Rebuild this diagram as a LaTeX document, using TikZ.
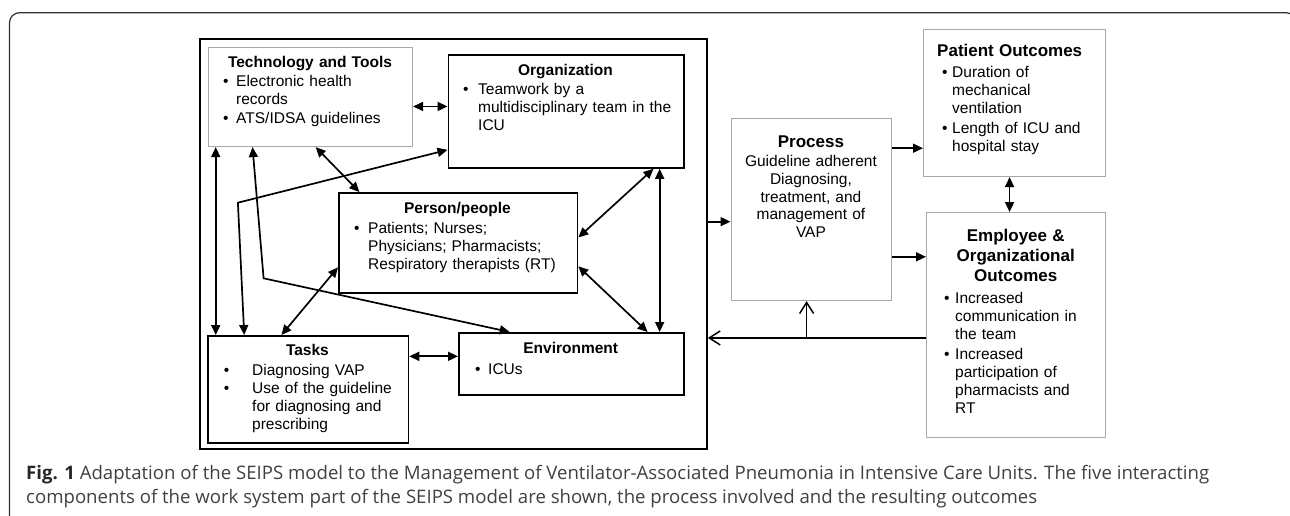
\documentclass[tikz,border=0pt]{standalone}
\usepackage{fontspec}
\setmainfont{Liberation Sans}
\newfontfamily\capfont{Open Sans}
\usetikzlibrary{arrows.meta,calc}
\definecolor{graybd}{HTML}{A8A8A8}
\definecolor{captxt}{HTML}{404040}
\definecolor{framec}{HTML}{303030}
\newlength\bw
\newlength\capw
\newcommand{\bitem}[1]{\mbox{\makebox[\bw][l]{\textbullet}#1}\par}
\newcommand{\bcont}[1]{\mbox{\hspace*{\bw}#1}\par}
\newcommand{\bodyfont}{\fontsize{15.5}{18}\selectfont}
\newcommand{\ttlfont}{\fontsize{17}{20}\selectfont}
\begin{document}
\settowidth\capw{\capfont\fontsize{10}{12}\selectfont\textbf{Fig. 1} Adaptation of the SEIPS model to the Management of Ventilator-Associated Pneumonia in Intensive Care Units. The five interacting}%
\pgfmathsetmacro\capfs{10*1183/\capw}%
\begin{tikzpicture}[x=1pt,y=-1pt,
  blackbox/.style={draw=black, line width=1.8pt, inner sep=0pt, anchor=north west},
  graybox/.style={draw=graybd, line width=1.1pt, inner sep=0pt, anchor=north west},
  txt/.style={inner sep=0pt, anchor=base west, font=\bodyfont\setlength\parindent{0pt}\setlength\parskip{0pt}},
  tipf/.tip={Triangle[length=10pt,width=9pt]},
  dbl/.style={line width=1.7pt, tipf-tipf},
  one/.style={line width=1.7pt, -tipf},
  openarr/.style={line width=1.5pt, -{Straight Barb[length=11pt,width=14pt]}}]
\useasboundingbox (0,0) rectangle (1290,516);
% outer frame
\draw[framec, line width=1.2pt, rounded corners=10pt] (9.5,560) -- (9.5,12.7) -- (1296,12.7) -- (1296,560);

% boxes
\node[blackbox, minimum width=507pt, minimum height=410pt] (work) at (199,38) {};
\node[graybox, minimum width=204.5pt, minimum height=99pt] (tech) at (207.5,47) {};
\node[blackbox, minimum width=235.5pt, minimum height=113pt] (org) at (447.5,54) {};
\node[blackbox, minimum width=238.5pt, minimum height=100pt] (person) at (338,192) {};
\node[blackbox, minimum width=200.5pt, minimum height=107pt] (tasks) at (207,335) {};
\node[blackbox, minimum width=225pt, minimum height=62pt] (env) at (458,332) {};
\node[graybox, minimum width=160.5pt, minimum height=182pt] (process) at (730.5,118) {};
\node[graybox, minimum width=182pt, minimum height=147pt] (patient) at (923,29) {};
\node[graybox, minimum width=179pt, minimum height=225pt] (employee) at (926,212) {};

% texts
\node[txt, text width=204.5pt] (techtxt) at (207.5,68) {%
  {\centering\bfseries Technology and Tools\par}\vspace{1pt}%
  \leftskip=15.5pt \setlength\bw{13pt}%
  \bitem{Electronic health}\bcont{records}\vspace{1pt}\bitem{ATS/IDSA guidelines}};
\node[txt, text width=235.5pt] (orgtxt) at (447.5,75.7) {%
  {\centering\bfseries Organization\par}\vspace{1.3pt}%
  \leftskip=15.5pt \setlength\bw{15pt}%
  \bitem{Teamwork by a}\bcont{multidisciplinary team in the}\bcont{ICU}};
\node[txt, text width=238.5pt] (persontxt) at (338,213) {%
  {\centering\bfseries Person/people\par}\vspace{2pt}%
  \leftskip=16pt \setlength\bw{14pt}%
  \bitem{Patients; Nurses;}\bcont{Physicians; Pharmacists;}\bcont{Respiratory therapists (RT)}};
\node[txt, text width=200.5pt] (taskstxt) at (207,355) {%
  {\centering\bfseries Tasks\par}\vspace{2pt}%
  \leftskip=16.6pt \setlength\bw{28.4pt}%
  \bitem{Diagnosing VAP}\bitem{Use of the guideline}\bcont{for diagnosing and}\bcont{prescribing}};
\node[txt, text width=225pt] (envtxt) at (458,353) {%
  {\centering\bfseries Environment\par}\vspace{3pt}%
  \leftskip=17pt \setlength\bw{13pt}%
  \bitem{ICUs}};
\node[txt, text width=160.5pt, font=\fontsize{15.5}{17.5}\selectfont] (processtxt) at (730.5,147) {%
  \centering{\ttlfont\bfseries Process\par}\vspace{2.5pt}%
  Guideline adherent\par Diagnosing,\par treatment, and\par management of\par VAP\par};
\node[txt, text width=182pt] (patienttxt) at (923,57) {%
  {\leftskip=14pt\ttlfont\bfseries Patient Outcomes\par}\vspace{3pt}%
  \leftskip=19pt \setlength\bw{10pt}%
  \bitem{Duration of}\bcont{mechanical}\bcont{ventilation}\vspace{1.5pt}%
  \bitem{Length of ICU and}\bcont{hospital stay}};
\node[txt, text width=179pt] (employeetxt) at (926,241) {%
  {\centering\ttlfont\bfseries Employee \&\par Organizational\par Outcomes\par}\vspace{4pt}%
  \leftskip=18pt \setlength\bw{11pt}%
  \bitem{Increased}\bcont{communication in}\bcont{the team}\vspace{2pt}%
  \bitem{Increased}\bcont{participation of}\bcont{pharmacists and}\bcont{RT}};

% connectors within work system
\draw[dbl] ($(tech.north east)!0.594!(tech.south east)$) coordinate (a1) -- (a1 -| org.west);
\draw[dbl] ($(tech.south west)!0.04!(tech.south east)$) coordinate (a2) -- (a2 |- tasks.north);
\coordinate (k3) at (263.6,278.3);
\draw[dbl] ($(tech.south west)!0.219!(tech.south east)$) -- (k3) -- ($(env.north west)!0.228!(env.north east)$);
\coordinate (k4) at (237.9,202.7);
\draw[dbl] ($(org.north west)!0.835!(org.south west)$) -- (k4) -- ($(tasks.north west)!0.184!(tasks.north east)$);
\draw[dbl] ($(tech.south west)!0.526!(tech.south east)$) -- ($(person.north west)!0.089!(person.north east)$);
\draw[dbl] ($(person.north west)!0.74!(person.south west)$) -- ($(tasks.north west)!0.368!(tasks.north east)$);
\draw[dbl] ($(org.south west)!0.868!(org.south east)$) -- ($(person.north east)!0.447!(person.south east)$);
\draw[dbl] ($(org.south west)!0.894!(org.south east)$) coordinate (a8) -- (a8 |- env.north);
\draw[dbl] ($(person.north east)!0.73!(person.south east)$) -- ($(env.north west)!0.836!(env.north east)$);
\draw[dbl] ($(tasks.north east)!0.196!(tasks.south east)$) coordinate (a10) -- (a10 -| env.west);

% connectors to process and outcomes
\draw[one] ($(work.north east)!0.446!(work.south east)$) coordinate (a11) -- (a11 -| process.west);
\draw[one] ($(process.north east)!0.165!(process.south east)$) coordinate (a12) -- (a12 -| patient.west);
\draw[one] ($(process.north east)!0.758!(process.south east)$) coordinate (a13) -- (a13 -| employee.west);
\draw[dbl] ($(employee.north west)!0.464!(employee.north east)$) coordinate (a14) -- (a14 |- patient.south);
\draw[openarr] ($(employee.north west)!0.557!(employee.south west)$) coordinate (a15) -- (a15 -| work.east);
\coordinate (pb) at ($(process.south west)!0.471!(process.south east)$);
\draw[openarr] (pb |- a15) -- (pb);

% caption
\node[inner sep=0pt, anchor=base west, align=left, text=captxt, font=\capfont\fontsize{\capfs}{24}\selectfont] (cap) at (26,503.5)
  {\textcolor{black!85}{\textbf{Fig. 1}} Adaptation of the SEIPS model to the Management of Ventilator-Associated Pneumonia in Intensive Care Units. The five interacting\\
   components of the work system part of the SEIPS model are shown, the process involved and the resulting outcomes};
\end{tikzpicture}
\end{document}
